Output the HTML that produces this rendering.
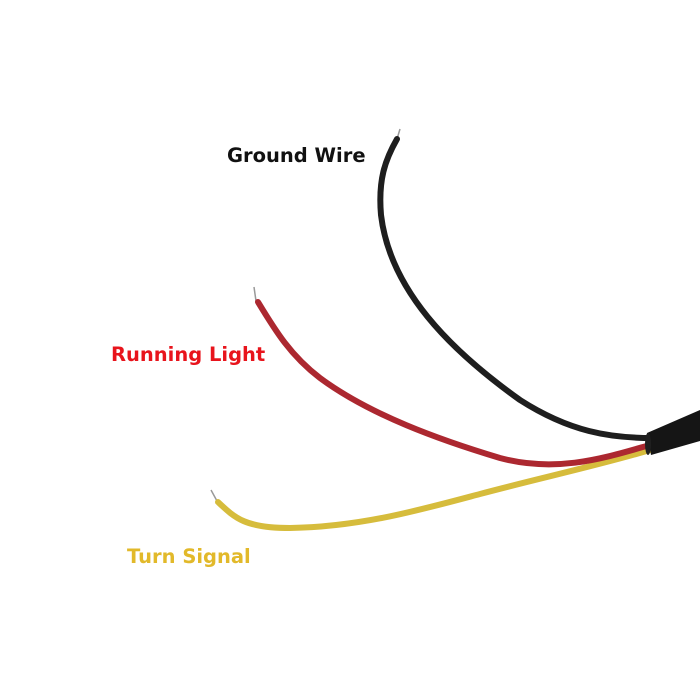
<!DOCTYPE html>
<html><head><meta charset="utf-8"><style>
html,body{margin:0;padding:0;background:#fff;width:700px;height:700px;overflow:hidden}
svg{display:block}
text{font-family:"DejaVu Sans","Liberation Sans",sans-serif;font-weight:bold}
</style></head><body>
<svg width="700" height="700" viewBox="0 0 700 700">
<line x1="400" y1="129" x2="397" y2="139" stroke="#999" stroke-width="1.5"/>
<line x1="254" y1="287" x2="256" y2="301" stroke="#999" stroke-width="1.5"/>
<line x1="211" y1="490" x2="217" y2="501" stroke="#999" stroke-width="1.5"/>
<path d="M218 502 C235 518 245 528 290 528 C360 527 420 510 480 494 C540 478 600 465 650 450" fill="none" stroke="#d6bc3c" stroke-width="6" stroke-linecap="round"/>
<path d="M258 302 C275 330 290 355 320 378 C370 415 440 440 500 458 C560 474 610 456 650 445" fill="none" stroke="#ac2830" stroke-width="6" stroke-linecap="round"/>
<path d="M397 139 C385 160 378 180 381 215 C390 290 450 350 520 400 C570 432 610 438 652 438" fill="none" stroke="#1e1e1e" stroke-width="6" stroke-linecap="round"/>
<path d="M647 433 L700 410 L700 441 L651 455 Z" fill="#151515"/>
<ellipse cx="648" cy="444" rx="3" ry="11" fill="#202020"/>
<text x="227" y="162" font-size="19.5" fill="#111">Ground Wire</text>
<text x="111" y="361" font-size="19.5" fill="#e8141c">Running Light</text>
<text x="127" y="563" font-size="19.5" fill="#e2b92a">Turn Signal</text>
</svg>
</body></html>
